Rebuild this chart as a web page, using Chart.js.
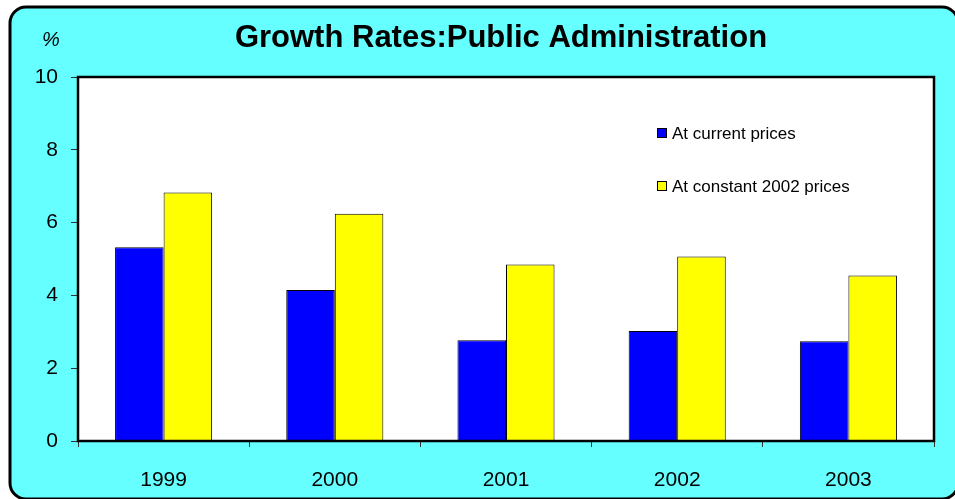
<!DOCTYPE html>
<html>
<head>
<meta charset="utf-8">
<script src="https://cdn.jsdelivr.net/npm/chart.js@4.4.0/dist/chart.umd.min.js"></script>
<style>
  html, body { margin: 0; padding: 0; background: #ffffff; }
  #wrap { width: 955px; height: 499px; }
</style>
</head>
<body>
<div id="wrap"><canvas id="grafico" width="955" height="499"></canvas></div>
<script>
// Datos del grafico
const years = ['1999', '2000', '2001', '2002', '2003'];
const currentPrices = [5.32, 4.15, 2.77, 3.02, 2.74];
const constantPrices = [6.83, 6.24, 4.85, 5.07, 4.55];
const seriesLabels = ['At current prices', 'At constant 2002 prices'];
const yTicks = [0, 2, 4, 6, 8, 10];
const chartTitle = 'Growth Rates:Public Administration';

const FONT = 'Arial, "Liberation Sans", sans-serif';

// Fondo cian con borde redondeado, titulo, borde del area y leyenda
const decoPlugin = {
    id: 'deco',
    beforeDraw(chart) {
        const c = chart.ctx;
        c.save();
        c.fillStyle = '#ffffff';
        c.fillRect(0, 0, chart.width, chart.height);
        const x = 10, y = 7, w = 948, h = 492, r = 16;
        c.beginPath();
        c.moveTo(x + r, y);
        c.lineTo(x + w - r, y);
        c.arcTo(x + w, y, x + w, y + r, r);
        c.lineTo(x + w, y + h - r);
        c.arcTo(x + w, y + h, x + w - r, y + h, r);
        c.lineTo(x + r, y + h);
        c.arcTo(x, y + h, x, y + h - r, r);
        c.lineTo(x, y + r);
        c.arcTo(x, y, x + r, y, r);
        c.closePath();
        c.fillStyle = '#66ffff';
        c.fill();
        c.lineWidth = 3;
        c.strokeStyle = '#000000';
        c.stroke();

        const a = chart.chartArea;
        c.fillStyle = '#ffffff';
        c.fillRect(a.left, a.top, a.right - a.left, a.bottom - a.top);
        c.restore();
    },
    afterDraw(chart) {
        const c = chart.ctx;
        const a = chart.chartArea;
        c.save();
        c.strokeStyle = '#000000';
        c.lineWidth = 2.5;
        c.strokeRect(a.left, a.top, a.right - a.left, a.bottom - a.top);

        // Titulo
        c.fillStyle = '#000000';
        c.font = 'bold 31px ' + FONT;
        c.textAlign = 'center';
        c.textBaseline = 'alphabetic';
        c.fillText(chartTitle, 501, 47);

        // Simbolo %
        c.font = 'italic 20px ' + FONT;
        c.textAlign = 'left';
        c.fillText('%', 42, 46);

        // Leyenda
        c.font = '17px ' + FONT;
        c.textBaseline = 'middle';
        chart.data.datasets.forEach((ds, i) => {
            const ly = 133 + i * 53;
            c.fillStyle = ds.backgroundColor;
            c.fillRect(657, ly - 5, 10, 10);
            c.lineWidth = 1;
            c.strokeStyle = '#000000';
            c.strokeRect(657.5, ly - 4.5, 9, 9);
            c.fillStyle = '#000000';
            c.fillText(ds.label, 672, ly + 1);
        });
        c.restore();
    }
};

const ctx = document.getElementById('grafico').getContext('2d');

const myChart = new Chart(ctx, {
    type: 'bar',
    data: {
        labels: years,
        datasets: [{
            label: seriesLabels[0],
            data: currentPrices,
            backgroundColor: '#0000ff',
            borderColor: '#000000',
            borderWidth: 1,
        }, {
            label: seriesLabels[1],
            data: constantPrices,
            backgroundColor: '#ffff00',
            borderColor: '#000000',
            borderWidth: 1,
        }],
    },
    options: {
        responsive: false,
        animation: false,
        layout: {
            padding: { left: 10, top: 77, right: 21, bottom: 8 },
        },
        datasets: {
            bar: { categoryPercentage: 0.567, barPercentage: 1 },
        },
        plugins: {
            legend: { display: false },
            title: { display: false },
            tooltip: { enabled: false },
        },
        scales: {
            x: {
                offset: true,
                grid: {
                    offset: true,
                    drawOnChartArea: false,
                    tickLength: 6,
                    color: '#333333',
                },
                border: { color: '#000000', width: 2 },
                ticks: {
                    color: '#000000',
                    font: { family: FONT, size: 21 },
                    padding: 21,
                },
                afterFit(scale) { scale.height = 50; },
            },
            y: {
                min: 0,
                max: 10,
                afterBuildTicks(scale) {
                    scale.ticks = yTicks.map(v => ({ value: v }));
                },
                grid: {
                    drawOnChartArea: false,
                    tickLength: 7,
                    color: '#333333',
                },
                border: { color: '#000000', width: 2 },
                ticks: {
                    color: '#000000',
                    font: { family: FONT, size: 21 },
                    padding: 13,
                },
                afterFit(scale) { scale.width = 68; },
            },
        },
    },
    plugins: [decoPlugin],
});
</script>
</body>
</html>
